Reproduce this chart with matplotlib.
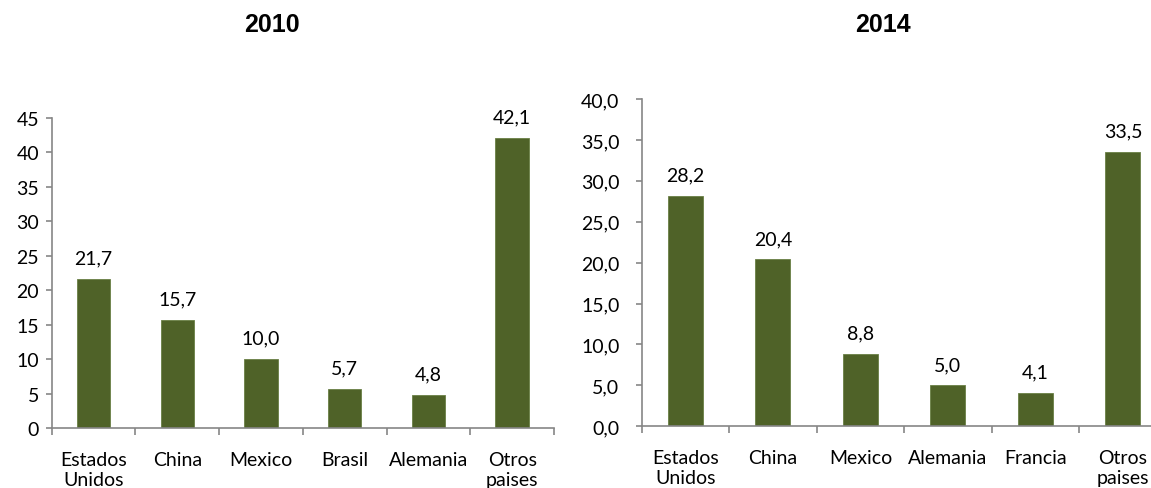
import matplotlib
matplotlib.use("Agg")
import matplotlib.pyplot as plt
from matplotlib.ticker import FixedLocator, FuncFormatter
import numpy as np

cats_2010 = ["Estados\nUnidos", "China", "Mexico", "Brasil", "Alemania", "Otros\npaises"]
vals_2010 = [21.7, 15.7, 10.0, 5.7, 4.8, 42.1]
cats_2014 = ["Estados\nUnidos", "China", "Mexico", "Alemania", "Francia", "Otros\npaises"]
vals_2014 = [28.2, 20.4, 8.8, 5.0, 4.1, 33.5]
titles = ["2010", "2014"]

BAR = "#4F6228"
AXC = "#868686"
FONT = "Lato"
FS = 14

W, H = 1151, 489
fig = plt.figure(figsize=(W / 100, H / 100), dpi=100)

def px(l, b, r, t):
    return [l / W, 1 - b / H, (r - l) / W, (b - t) / H]

ax1 = fig.add_axes(px(51.7, 429.3, 554, 119))
ax2 = fig.add_axes(px(641.7, 427.3, 1166.7, 100))

def style(ax, cats, vals, ymax, fmt, ypad):
    x = np.arange(len(cats))
    ax.bar(x, vals, width=0.4, color=BAR, edgecolor="#6a7f45", linewidth=0.6, zorder=2)
    ax.set_xlim(-0.5, len(cats) - 0.5)
    ax.set_ylim(0, ymax)
    for s in ["top", "right"]:
        ax.spines[s].set_visible(False)
    for s in ["left", "bottom"]:
        ax.spines[s].set_color(AXC)
        ax.spines[s].set_linewidth(1.2)
    ax.set_xticks(x)
    ax.set_xticklabels(cats, fontfamily=FONT, fontsize=FS, linespacing=1.25)
    ax.xaxis.set_minor_locator(FixedLocator(np.arange(len(cats) + 1) - 0.5))
    ax.tick_params(axis="x", which="major", length=0, pad=16)
    ax.tick_params(axis="x", which="minor", length=5, color=AXC, width=1.2, direction="out")
    ax.set_yticks(np.arange(0, ymax + 0.1, 5))
    ax.yaxis.set_major_formatter(FuncFormatter(fmt))
    ax.tick_params(axis="y", length=4, color=AXC, width=1.2, direction="out", pad=ypad)
    for lab in ax.get_yticklabels():
        lab.set_fontfamily(FONT)
        lab.set_fontsize(FS)
    for xi, v in zip(x, vals):
        ax.annotate(f"{v:.1f}".replace(".", ","), (xi, v), xytext=(0, 9),
                    textcoords="offset points", ha="center", va="bottom",
                    fontfamily=FONT, fontsize=FS)

style(ax1, cats_2010, vals_2010, 45, lambda v, p: f"{int(round(v))}", 5)
style(ax2, cats_2014, vals_2014, 40, lambda v, p: f"{v:.1f}".replace(".", ","), 12)

fig.text(272 / W, 1 - 25 / H, titles[0], ha="center", va="center",
         fontfamily="Liberation Sans", fontweight="bold", fontsize=18)
fig.text(883 / W, 1 - 25 / H, titles[1], ha="center", va="center",
         fontfamily="Liberation Sans", fontweight="bold", fontsize=18)

fig.savefig("out.png", dpi=100)
